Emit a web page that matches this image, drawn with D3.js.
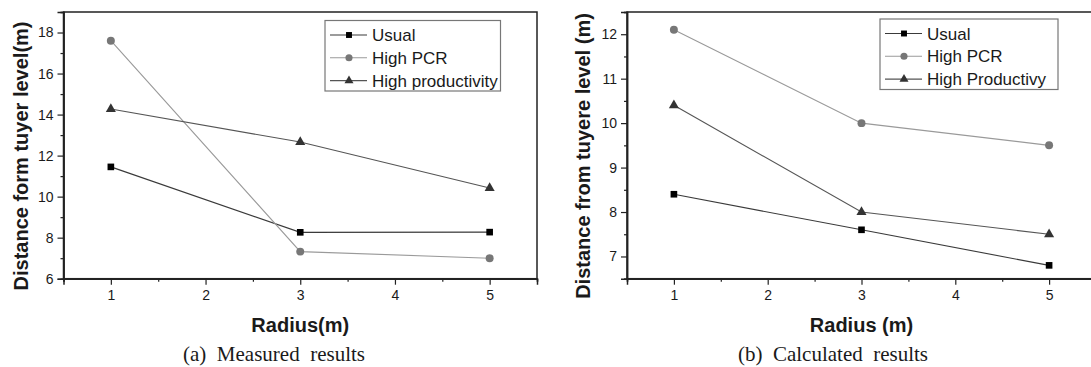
<!DOCTYPE html>
<html>
<head>
<meta charset="utf-8">
<script src="https://cdn.jsdelivr.net/npm/d3@7"></script>
<style>
  body { margin: 0; background: #fff; }
  text { font-family: "Liberation Sans", Arial, sans-serif; fill: #1a1a1a; }
  .caption { font-family: "Liberation Serif", "Times New Roman", serif; white-space: pre; }
</style>
</head>
<body>
<div id="main"></div>
<script>
const width = 1091;
const height = 367;

// radius positions (m)
const radius = [1, 3, 5];
const seriesNames = ["Usual", "High PCR", "High productivity"];
const seriesNamesCalc = ["Usual", "High PCR", "High Productivy"];

// (a) measured
const measUsual = [11.45, 8.26, 8.27];
const measPCR = [17.6, 7.32, 7.0];
const measProd = [14.27, 12.66, 10.42];

// (b) calculated
const calcUsual = [8.4, 7.6, 6.8];
const calcPCR = [12.1, 10.0, 9.5];
const calcProd = [10.4, 8.0, 7.5];

const xTicks = [1, 2, 3, 4, 5];
const xMinor = [0.5, 1.5, 2.5, 3.5, 4.5, 5.5];
const yTicksA = [6, 8, 10, 12, 14, 16, 18];
const yMinorA = [7, 9, 11, 13, 15, 17, 19];
const yTicksB = [7, 8, 9, 10, 11, 12];
const yMinorB = [6.5, 7.5, 8.5, 9.5, 10.5, 11.5, 12.5];

const styles = [
  { shape: d3.symbolSquare, size: 44, fill: "#000", line: "#3a3a3a" },
  { shape: d3.symbolCircle, size: 50, fill: "#777", line: "#9a9a9a" },
  { shape: d3.symbolTriangle, size: 44, fill: "#333", line: "#555" },
];

let svg = d3
  .select("#main")
  .append("svg")
  .attr("width", width)
  .attr("height", height);

function drawPanel(p) {
  const x = d3.scaleLinear().domain([0.5, 5.5]).range([p.left, p.right]);
  const y = d3.scaleLinear().domain(p.yDomain).range([278.7, 12]);
  const g = svg.append("g");

  // frame
  g.append("rect")
    .attr("x", p.left)
    .attr("y", 12)
    .attr("width", p.right - p.left)
    .attr("height", 278.7 - 12)
    .attr("fill", "none")
    .attr("stroke", "#222")
    .attr("stroke-width", 1.5);

  // axes
  const xAxis = g.append("g").attr("transform", "translate(0,278.7)");
  xAxis.call(d3.axisBottom(x).tickValues(xMinor).tickSize(3).tickFormat(""));
  const xMaj = g.append("g").attr("transform", "translate(0,278.7)");
  xMaj.call(d3.axisBottom(x).tickValues(xTicks).tickSize(6).tickPadding(5).tickFormat(d3.format("d")));

  const yAxis = g.append("g").attr("transform", `translate(${p.left},0)`);
  yAxis.call(d3.axisLeft(y).tickValues(p.yMinor).tickSize(3).tickFormat(""));
  const yMaj = g.append("g").attr("transform", `translate(${p.left},0)`);
  yMaj.call(d3.axisLeft(y).tickValues(p.yTicks).tickSize(6).tickPadding(4).tickFormat(d3.format("d")));

  g.selectAll(".domain").attr("stroke", "#222").attr("stroke-width", 1.5);
  g.selectAll(".tick line").attr("stroke", "#222").attr("stroke-width", 1.2);
  g.selectAll(".tick text").style("font-size", "14px").attr("fill", "#1a1a1a");

  // lines and markers
  const line = d3.line().x((d, i) => x(radius[i])).y((d) => y(d));
  p.data.forEach((vals, k) => {
    g.append("path")
      .attr("d", line(vals))
      .attr("fill", "none")
      .attr("stroke", styles[k].line)
      .attr("stroke-width", 1.1);
  });
  p.data.forEach((vals, k) => {
    g.selectAll(null)
      .data(vals)
      .enter()
      .append("path")
      .attr("d", d3.symbol().type(styles[k].shape).size(styles[k].size))
      .attr("transform", (d, i) => `translate(${x(radius[i])},${y(d)})`)
      .attr("fill", styles[k].fill);
  });

  // legend
  const lg = g.append("g");
  lg.append("rect")
    .attr("x", p.legend.x)
    .attr("y", p.legend.y)
    .attr("width", p.legend.w)
    .attr("height", 70.5)
    .attr("fill", "#fff")
    .attr("stroke", "#777")
    .attr("stroke-width", 1.2);
  p.names.forEach((name, k) => {
    const cy = p.legend.y + 14.5 + k * 22.8;
    const x0 = p.legend.x + 5;
    lg.append("line")
      .attr("x1", x0)
      .attr("x2", x0 + 37)
      .attr("y1", cy)
      .attr("y2", cy)
      .attr("stroke", styles[k].line)
      .attr("stroke-width", 1.1);
    lg.append("path")
      .attr("d", d3.symbol().type(styles[k].shape).size(styles[k].size * 0.8))
      .attr("transform", `translate(${x0 + 19},${cy})`)
      .attr("fill", styles[k].fill);
    lg.append("text")
      .attr("x", x0 + 42)
      .attr("y", cy + 6)
      .style("font-size", "17px")
      .text(name);
  });

  // axis titles
  g.append("text")
    .attr("transform", `translate(${p.yLabelX},156) rotate(-90)`)
    .attr("text-anchor", "middle")
    .style("font-size", "20px")
    .style("font-weight", "bold")
    .text(p.yLabel);
  g.append("text")
    .attr("x", (p.left + p.right) / 2)
    .attr("y", 332)
    .attr("text-anchor", "middle")
    .style("font-size", "20px")
    .style("font-weight", "bold")
    .text(p.xLabel);
  g.append("text")
    .attr("class", "caption")
    .attr("x", p.captionX)
    .attr("y", 361)
    .attr("text-anchor", "middle")
    .style("font-size", "21px")
    .text(p.caption);
}

drawPanel({
  left: 63.5,
  right: 537,
  yDomain: [6, 19],
  yTicks: yTicksA,
  yMinor: yMinorA,
  data: [measUsual, measPCR, measProd],
  names: seriesNames,
  legend: { x: 325, y: 20.5, w: 175.5 },
  yLabel: "Distance form tuyer level(m)",
  yLabelX: 28,
  xLabel: "Radius(m)",
  caption: "(a)  Measured  results",
  captionX: 274,
});

drawPanel({
  left: 627,
  right: 1096,
  yDomain: [6.5, 12.5],
  yTicks: yTicksB,
  yMinor: yMinorB,
  data: [calcUsual, calcPCR, calcProd],
  names: seriesNamesCalc,
  legend: { x: 880, y: 19, w: 178 },
  yLabel: "Distance from tuyere level (m)",
  yLabelX: 590,
  xLabel: "Radius (m)",
  caption: "(b)  Calculated  results",
  captionX: 833,
});
</script>
</body>
</html>
